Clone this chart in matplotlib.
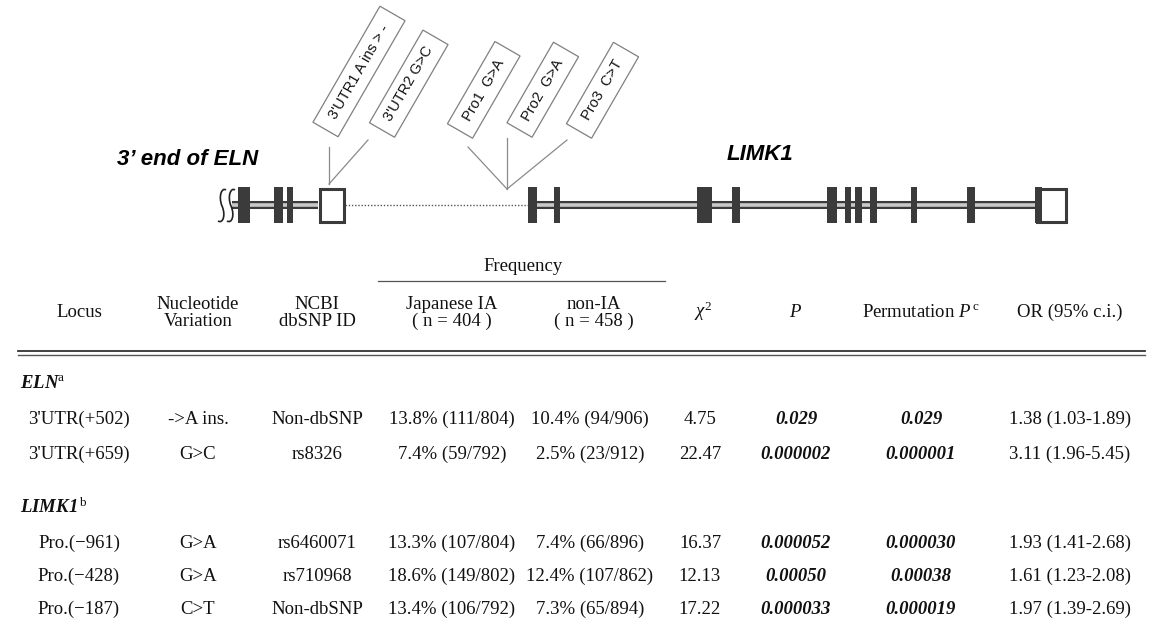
import numpy as np
import matplotlib
matplotlib.use('Agg')
import matplotlib.pyplot as plt
from matplotlib.patches import Rectangle, Polygon, PathPatch
from matplotlib.path import Path

plt.rcParams['mathtext.fontset'] = 'custom'
plt.rcParams['mathtext.rm'] = 'Liberation Serif'
plt.rcParams['mathtext.it'] = 'Liberation Serif:italic'
plt.rcParams['mathtext.bf'] = 'Liberation Serif:bold'
plt.rcParams['mathtext.bfit'] = 'Liberation Serif:italic:bold'

# gene structure (x in figure pixels)
eln_exons = [(238, 250), (274, 283), (287, 293)]
eln_utr = (318, 345)
limk1_exons = [(528, 537), (554, 560), (697, 712), (732, 740), (827, 837),
               (845, 851), (855, 862), (870, 877), (911, 917), (967, 975),
               (1035, 1042)]
limk1_utr = (1035, 1067)
intergenic = (345, 528)

snp_labels = ["3'UTR1 A ins > -", "3'UTR2 G>C", "Pro1  G>A", "Pro2  G>A", "Pro3  C>T"]

# table
loci = ["3'UTR(+502)", "3'UTR(+659)", "Pro.(\u2212961)", "Pro.(\u2212428)", "Pro.(\u2212187)"]
variations = ["->A ins.", "G>C", "G>A", "G>A", "C>T"]
dbsnp_ids = ["Non-dbSNP", "rs8326", "rs6460071", "rs710968", "Non-dbSNP"]
freq_ia = ["13.8% (111/804)", "7.4% (59/792)", "13.3% (107/804)",
           "18.6% (149/802)", "13.4% (106/792)"]
freq_non_ia = ["10.4% (94/906)", "2.5% (23/912)", "7.4% (66/896)",
               "12.4% (107/862)", "7.3% (65/894)"]
chi2 = ["4.75", "22.47", "16.37", "12.13", "17.22"]
p_values = ["0.029", "0.000002", "0.000052", "0.00050", "0.000033"]
perm_p = ["0.029", "0.000001", "0.000030", "0.00038", "0.000019"]
odds_ratio = ["1.38 (1.03-1.89)", "3.11 (1.96-5.45)", "1.93 (1.41-2.68)",
              "1.61 (1.23-2.08)", "1.97 (1.39-2.69)"]
group_names = [r'$\mathbfit{ELN}^{\mathrm{a}}$', r'$\mathbfit{LIMK1}^{\,\mathrm{b}}$']

DARK = '#3b3b3b'
LIGHT = '#c9c9c9'
SERIF = 'Liberation Serif'
SANS = 'Liberation Sans'
FS = 13.5

fig = plt.figure(figsize=(11.61, 6.37), dpi=100)
ax = fig.add_axes([0, 0, 1, 1])
ax.set_xlim(0, 1161)
ax.set_ylim(637, 0)
ax.axis('off')

# ---- gene diagram ----
GY, EX_TOP, EX_H = 205, 187, 36


def gene_line(x0, x1):
    ax.plot([x0, x1], [GY, GY], color=DARK, lw=5.8, solid_capstyle='butt', zorder=1)
    ax.plot([x0, x1], [GY, GY], color=LIGHT, lw=2.6, solid_capstyle='butt', zorder=1)


gene_line(232, eln_utr[0])
gene_line(limk1_exons[0][0], limk1_utr[0])
ax.plot(intergenic, [GY, GY], color='#555555', lw=1.0, linestyle=(0, (1, 1.3)), zorder=1)

for x0, x1 in eln_exons + limk1_exons:
    ax.add_patch(Rectangle((x0, EX_TOP), x1 - x0, EX_H, fc=DARK, ec='none', zorder=2))
for x0, x1 in [eln_utr, limk1_utr]:
    ax.add_patch(Rectangle((x0 + 1.5, EX_TOP + 1.5), x1 - x0 - 3, EX_H - 3,
                           fc='white', ec=DARK, lw=2.2, zorder=2))
ax.add_patch(Rectangle((limk1_utr[0], EX_TOP), 7, EX_H, fc=DARK, ec='none', zorder=3))

# break symbol
for x0 in [221, 230]:
    verts = [(x0 + 5, 190), (x0 + 1, 187), (x0 - 3, 196), (x0 + 1, 206),
             (x0 + 5, 215), (x0 + 2, 224), (x0 - 3, 221)]
    codes = [Path.MOVETO, Path.CURVE4, Path.CURVE4, Path.CURVE4,
             Path.CURVE4, Path.CURVE4, Path.CURVE4]
    ax.add_patch(PathPatch(Path(verts, codes), fill=False, ec='#222222', lw=1.2, zorder=3))

ax.text(258, 165, "3\u2019 end of ELN", family=SANS, fontsize=16, fontweight='bold',
        fontstyle='italic', ha='right', va='baseline')
ax.text(760, 160, "LIMK1", family=SANS, fontsize=16, fontweight='bold',
        fontstyle='italic', ha='center', va='baseline')

# SNP callouts
snp_bases = [(325.5, 129.5), (382, 130), (460, 131), (519.5, 130), (579, 131)]
snp_lengths = [134, 107, 95, 93, 94]
ANG, BW = 60, 29
a = np.deg2rad(ANG)
u = np.array([np.cos(a), -np.sin(a)])
v = np.array([np.sin(a), np.cos(a)])
for base, length, lab in zip(snp_bases, snp_lengths, snp_labels):
    b = np.array(base)
    t = b + u * length
    corners = [b - v * BW / 2, b + v * BW / 2, t + v * BW / 2, t - v * BW / 2]
    ax.add_patch(Polygon(corners, closed=True, fill=False, ec='#808080', lw=0.9))
    c = b + u * length / 2
    ax.text(c[0], c[1], lab, rotation=ANG, rotation_mode='anchor', ha='center',
            va='center', family=SANS, fontsize=10.5, color='#111111')

pointer_lines = [((329, 147), (329, 184)), ((368, 140), (329, 184)),
                 ((468, 147), (507, 189)), ((507, 138), (507, 189)),
                 ((567, 140), (507, 189))]
for (xa, ya), (xb, yb) in pointer_lines:
    ax.plot([xa, xb], [ya, yb], color='#8a8a8a', lw=0.9)

# ---- table ----
col_x = [79, 198, 317, 452, 590, 700, 796, 921, 1070]


def serif(x, y, s, **kw):
    kw.setdefault('ha', 'center')
    ax.text(x, y, s, family=SERIF, fontsize=FS, va='baseline', color='#111111', **kw)


serif(523, 271, "Frequency")
ax.plot([378, 665], [281, 281], color='#555555', lw=0.9)

serif(col_x[0], 317, "Locus")
serif(col_x[1], 309, "Nucleotide")
serif(col_x[1], 326, "Variation")
serif(col_x[2], 309, "NCBI")
serif(col_x[2], 326, "dbSNP ID")
serif(col_x[3], 309, "Japanese IA")
serif(col_x[3], 326, "( n = 404 )")
serif(col_x[4] + 4, 309, "non-IA")
serif(col_x[4] + 4, 326, "( n = 458 )")
serif(col_x[5] + 3, 317, r'$\chi^2$')
serif(col_x[6], 317, r'$P$')
serif(col_x[7], 317, r'Permutation $P^{\,\mathrm{c}}$')
serif(col_x[8], 317, "OR (95% c.i.)")

ax.plot([18, 1145], [351, 351], color='#333333', lw=1.3)
ax.plot([18, 1145], [354.5, 354.5], color='#555555', lw=1.0)

group_y = [388, 513]
row_y = [424, 459, 548, 581, 614]
for gy, name in zip(group_y, group_names):
    serif(20, gy, name, ha='left')

for i, y in enumerate(row_y):
    serif(col_x[0], y, loci[i])
    serif(col_x[1], y, variations[i])
    serif(col_x[2], y, dbsnp_ids[i])
    serif(col_x[3], y, freq_ia[i])
    serif(col_x[4], y, freq_non_ia[i])
    serif(col_x[5], y, chi2[i])
    serif(col_x[6], y, p_values[i], fontweight='bold', fontstyle='italic')
    serif(col_x[7], y, perm_p[i], fontweight='bold', fontstyle='italic')
    serif(col_x[8], y, odds_ratio[i])

fig.savefig('out.png', dpi=100, facecolor='white')
